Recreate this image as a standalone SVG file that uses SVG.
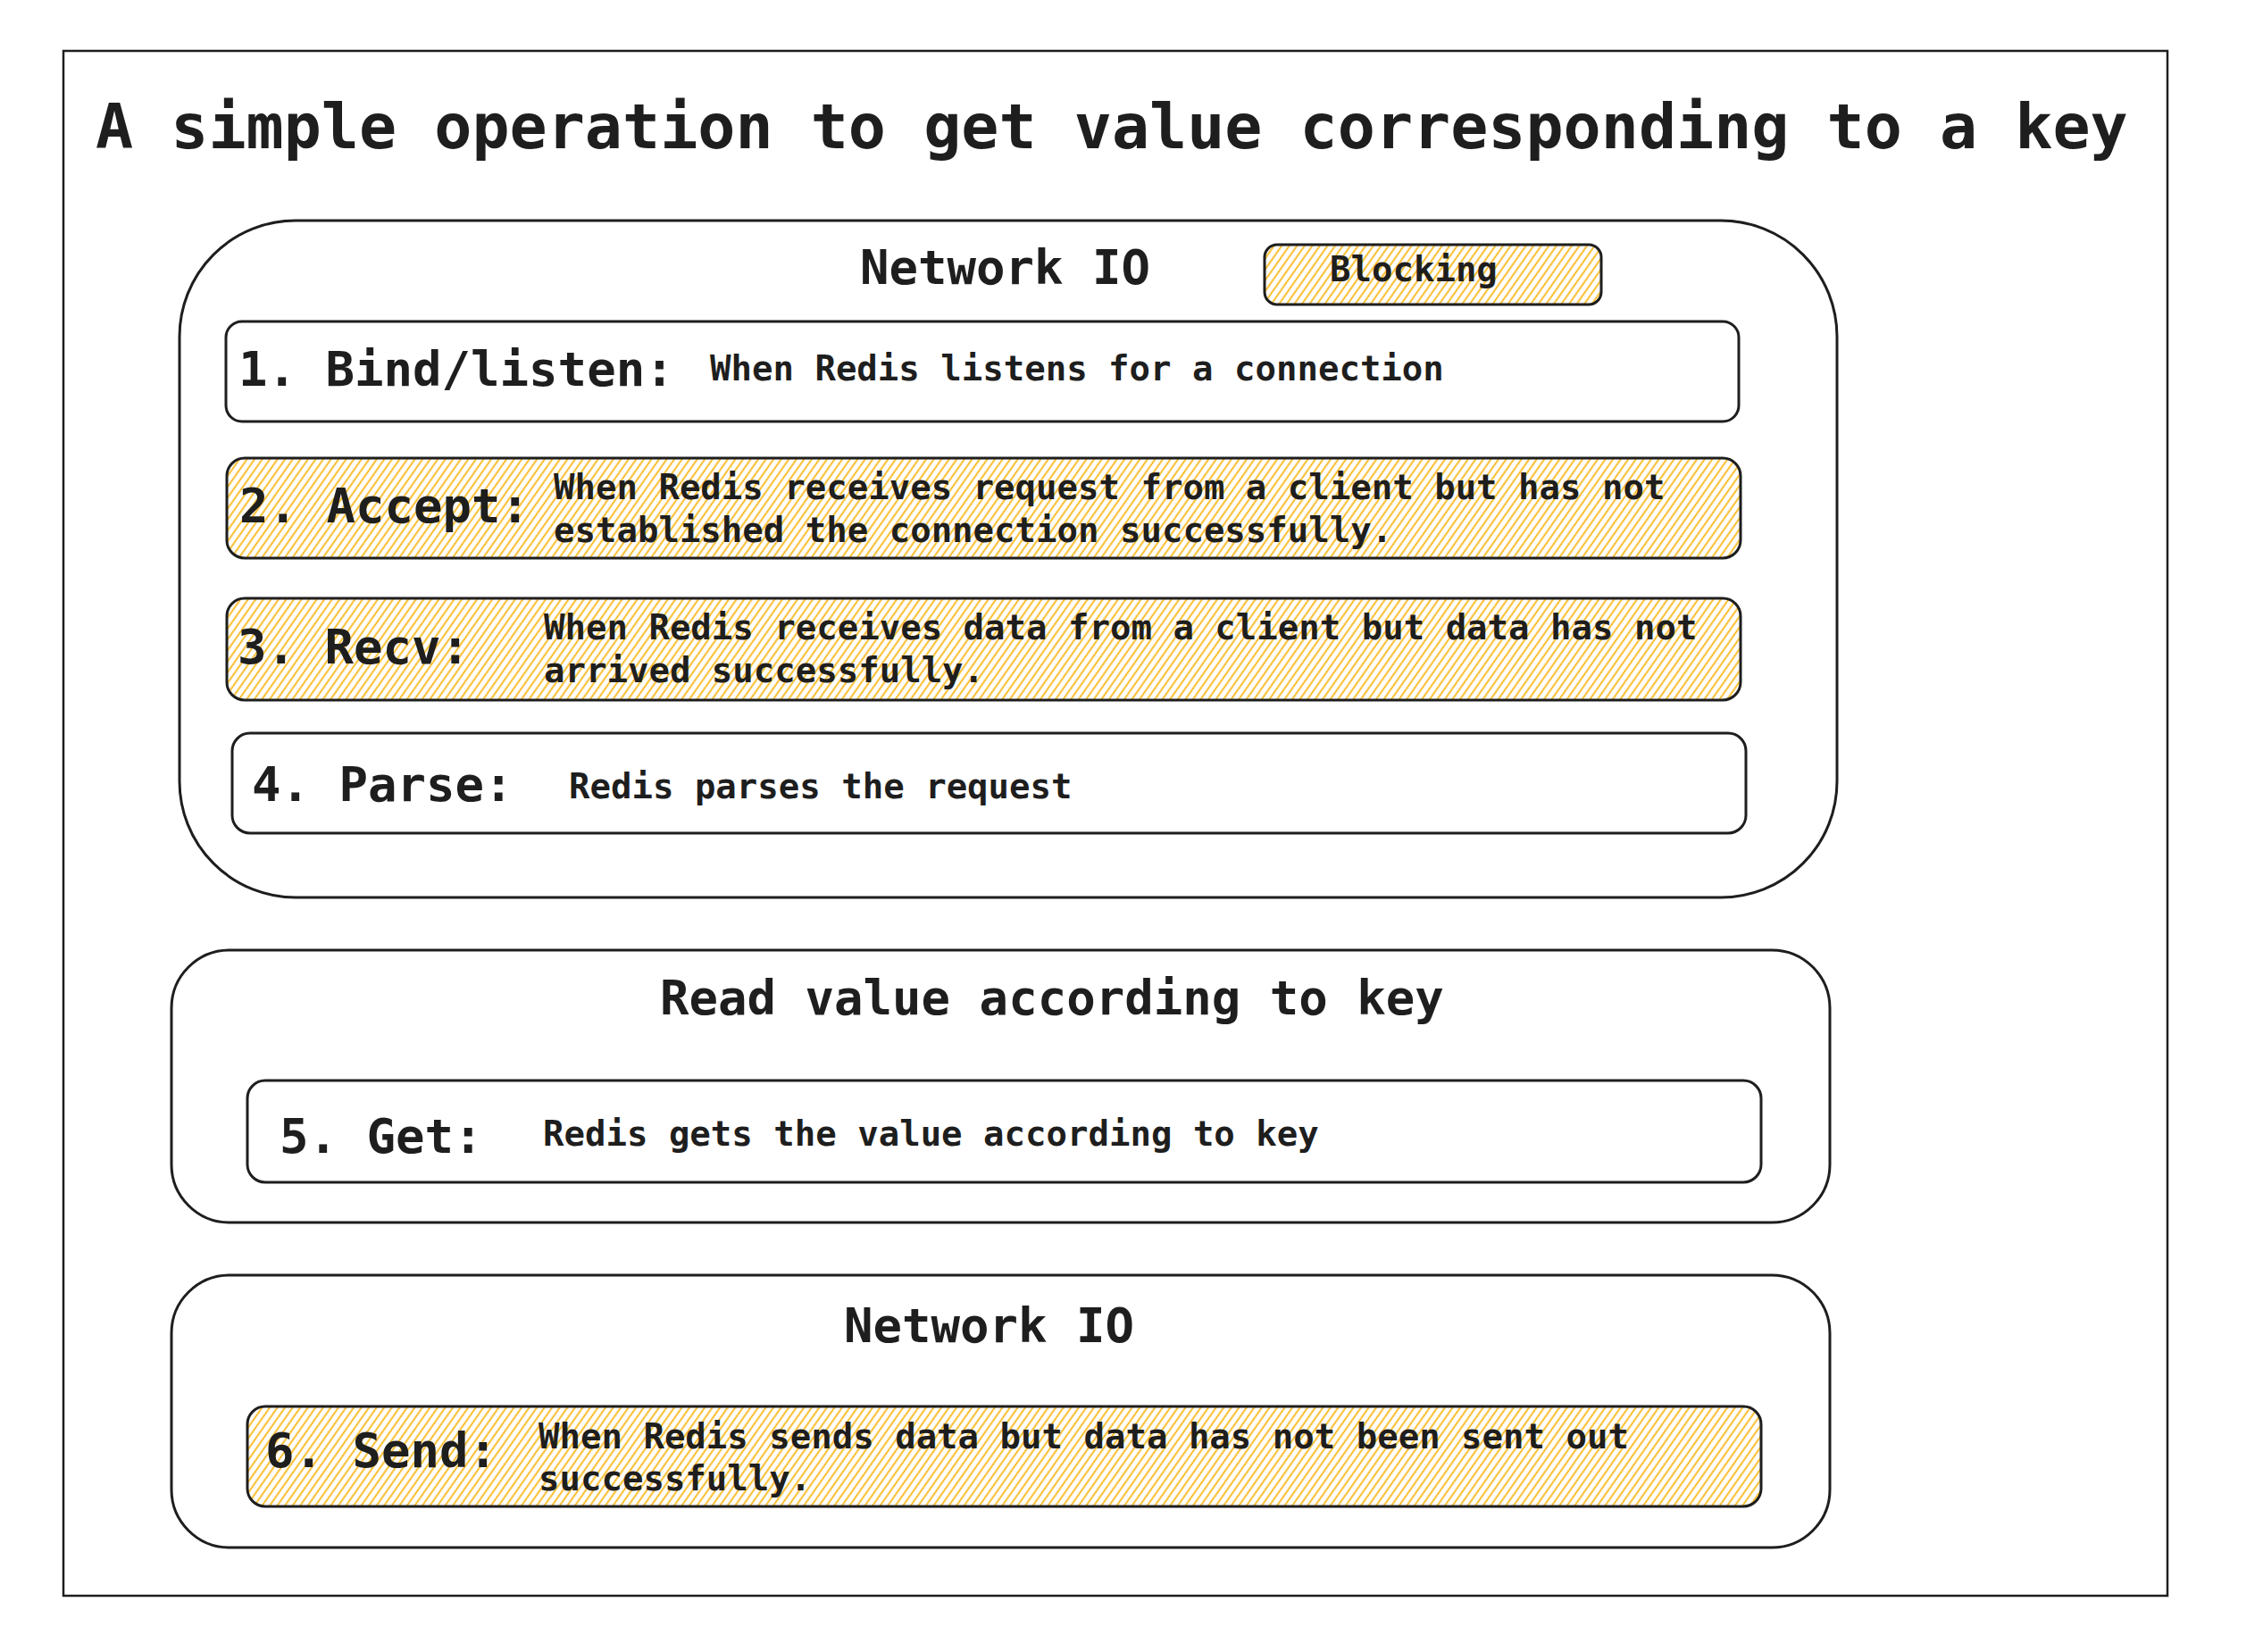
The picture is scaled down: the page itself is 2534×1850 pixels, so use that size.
<svg xmlns="http://www.w3.org/2000/svg" width="2534" height="1850" viewBox="0 0 2534 1850">
<defs>
<pattern id="hatch" patternUnits="userSpaceOnUse" width="7" height="7" patternTransform="rotate(35)">
<line x1="3.5" y1="0" x2="3.5" y2="7" stroke="#fab005" stroke-width="1.7"/>
</pattern>
</defs>
<style>
.frame{fill:none;stroke:#1e1e1e;stroke-width:2.5}
.box{fill:#ffffff;stroke:#1e1e1e;stroke-width:3}
.hbox{fill:url(#hatch);stroke:#1e1e1e;stroke-width:3}
.cont{fill:none;stroke:#1e1e1e;stroke-width:3}
text{font-family:"DejaVu Sans Mono","Liberation Mono",monospace;fill:#1e1e1e;font-weight:bold}
.title{font-size:70px}
.head{font-size:54px}
.lbl{font-size:54px}
.desc{font-size:39px}
</style>
<rect width="2534" height="1850" fill="#ffffff"/>
<g id="frame">
<rect class="frame" x="71" y="57" width="2356" height="1730"/>
<text class="title" x="107" y="166">A simple operation to get value corresponding to a key</text>
</g>
<g id="network-io-1">
<rect class="cont" x="201" y="247" width="1856" height="758" rx="130" ry="130"/>
<text class="head" x="963" y="318">Network IO</text>
</g>
<g id="blocking">
<rect class="hbox" x="1416" y="274" width="377" height="67" rx="14" ry="14"/>
<text class="desc" x="1489" y="315">Blocking</text>
</g>
<g id="step-1">
<rect class="box" x="253" y="360" width="1694" height="112" rx="18" ry="18"/>
<text class="lbl" x="267" y="432">1. Bind/listen:</text>
<text class="desc" x="795" y="426">When Redis listens for a connection</text>
</g>
<g id="step-2">
<rect class="hbox" x="254" y="513" width="1695" height="112" rx="20" ry="20"/>
<text class="lbl" x="268" y="585">2. Accept:</text>
<text class="desc" x="620" y="559">When Redis receives request from a client but has not</text>
<text class="desc" x="620" y="607">established the connection successfully.</text>
</g>
<g id="step-3">
<rect class="hbox" x="254" y="670" width="1695" height="114" rx="20" ry="20"/>
<text class="lbl" x="266" y="743">3. Recv:</text>
<text class="desc" x="609" y="716">When Redis receives data from a client but data has not</text>
<text class="desc" x="609" y="764">arrived successfully.</text>
</g>
<g id="step-4">
<rect class="box" x="260" y="821" width="1695" height="112" rx="20" ry="20"/>
<text class="lbl" x="282" y="897">4. Parse:</text>
<text class="desc" x="637" y="894">Redis parses the request</text>
</g>
<g id="read-value">
<rect class="cont" x="192" y="1064" width="1857" height="305" rx="65" ry="65"/>
<text class="head" x="739" y="1136">Read value according to key</text>
</g>
<g id="step-5">
<rect class="box" x="277" y="1210" width="1695" height="114" rx="20" ry="20"/>
<text class="lbl" x="313" y="1291">5. Get:</text>
<text class="desc" x="608" y="1283">Redis gets the value according to key</text>
</g>
<g id="network-io-2">
<rect class="cont" x="192" y="1428" width="1857" height="305" rx="65" ry="65"/>
<text class="head" x="945" y="1503">Network IO</text>
</g>
<g id="step-6">
<rect class="hbox" x="277" y="1575" width="1695" height="112" rx="20" ry="20"/>
<text class="lbl" x="297" y="1643">6. Send:</text>
<text class="desc" x="603" y="1622">When Redis sends data but data has not been sent out</text>
<text class="desc" x="603" y="1669">successfully.</text>
</g>
<g id="connectors"></g>
</svg>
